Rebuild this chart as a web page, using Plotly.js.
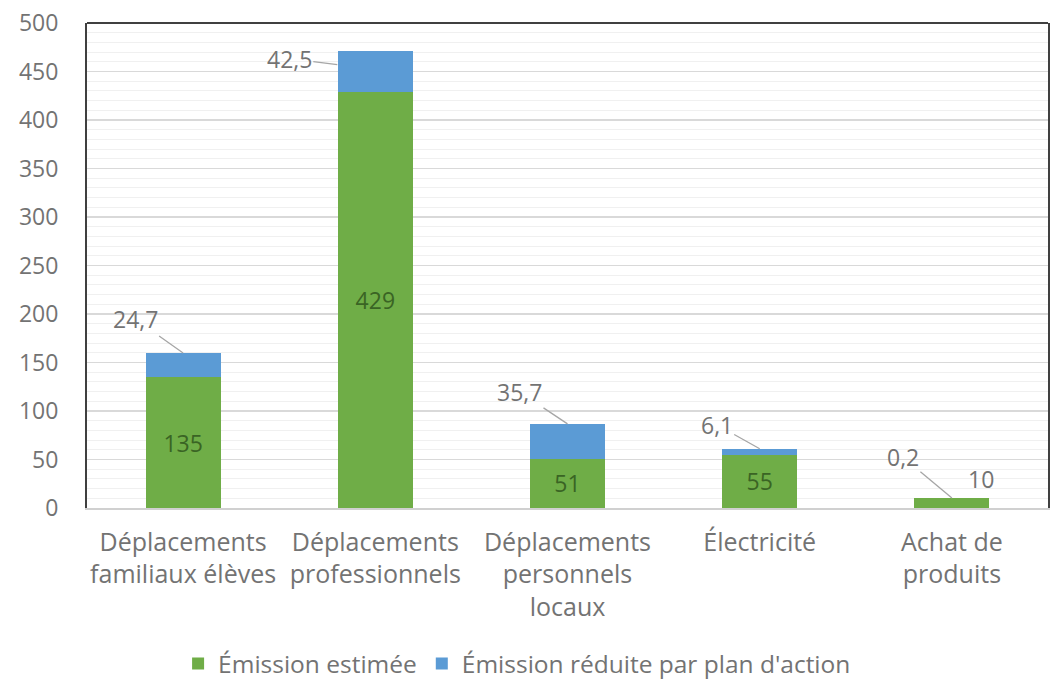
<!DOCTYPE html>
<html>
<head>
<meta charset="utf-8">
<script src="https://cdn.plot.ly/plotly-3.0.1.min.js"></script>
<style>html,body{margin:0;padding:0;background:#fff;}#chart{width:1051px;height:687px;}</style>
</head>
<body>
<div id="chart"></div>
<script>
const categories = [
  "Déplacements<br>familiaux élèves",
  "Déplacements<br>professionnels",
  "Déplacements<br>personnels<br>locaux",
  "Électricité",
  "Achat de<br>produits"
];
const seriesNames = ["Émission estimée", "Émission réduite par plan d'action"];
const estimee = [135, 429, 51, 55, 10];
const reduite = [24.7, 42.5, 35.7, 6.1, 0.2];
const yTicks = [0, 50, 100, 150, 200, 250, 300, 350, 400, 450, 500];

const fmt = v => String(v).replace('.', ',');
const FONT = "Open Sans, DejaVu Sans, sans-serif";
const GRAY = "#737373";
const FS = 23;

// label offsets for the blue values (pixel offsets of the text from the bar top)
const blueOffsets = [[-48, -34], [-48, -6], [-48, -32], [-43, -24], [-49, -41]];
const blueShift = [[0, 0], [-38, -14], [0, 0], [0, 0], [0, 0]];

const greenText = estimee.map((v, i) => i === 4 ? "" : fmt(v));

const traces = [
  {
    type: "bar", name: seriesNames[0], x: categories, y: estimee,
    marker: {color: "#6FAD47"},
    text: greenText, textposition: "inside", insidetextanchor: "middle",
    textfont: {family: FONT, size: FS, color: "#3A6424"},
    constraintext: "none", hoverinfo: "x+y"
  },
  {
    type: "bar", name: seriesNames[1], x: categories, y: reduite,
    marker: {color: "#5B9BD5"},
    hoverinfo: "x+y"
  }
];

const annotations = reduite.map((v, i) => ({
  x: categories[i], y: estimee[i] + v, xref: "x", yref: "y",
  text: fmt(v), showarrow: true, arrowhead: 0, arrowwidth: 1.3, arrowcolor: "#A6A6A6",
  ax: blueOffsets[i][0], ay: blueOffsets[i][1],
  xshift: blueShift[i][0], yshift: blueShift[i][1],
  font: {family: FONT, size: FS, color: GRAY}
}));
annotations.push({
  x: categories[4], y: estimee[4] + reduite[4], xref: "x", yref: "y",
  text: fmt(estimee[4]), showarrow: false, xshift: 29, yshift: 19,
  font: {family: FONT, size: FS, color: GRAY}
});

const layout = {
  width: 1051, height: 687,
  margin: {l: 87, r: 3, t: 23, b: 179},
  barmode: "stack", bargap: 0.61,
  paper_bgcolor: "#ffffff", plot_bgcolor: "#ffffff",
  font: {family: FONT, size: FS, color: GRAY},
  showlegend: true,
  legend: {
    orientation: "h", xref: "container", yref: "container",
    x: 0.492, xanchor: "center", y: 0.034, yanchor: "middle",
    font: {family: FONT, size: 24.5, color: GRAY},
    traceorder: "normal", itemwidth: 30
  },
  xaxis: {
    type: "category", showgrid: false, showline: true, linecolor: "#D0D0D0", linewidth: 1.5,
    ticks: "", tickfont: {family: FONT, size: 25, color: GRAY}, ticklabelstandoff: 11,
    fixedrange: true
  },
  yaxis: {
    range: [0, 500], tickvals: yTicks, ticktext: yTicks.map(String),
    showgrid: true, gridcolor: "#D9D9D9", gridwidth: 1.3,
    minor: {dtick: 10, showgrid: true, gridcolor: "#F0F0F0", gridwidth: 1},
    showline: true, mirror: true, linecolor: "#404040", linewidth: 2,
    zeroline: false, ticks: "", ticklabelstandoff: 22,
    tickfont: {family: FONT, size: FS, color: GRAY}, fixedrange: true
  },
  shapes: [
    {type: "line", xref: "paper", yref: "paper", x0: 0, x1: 1, y0: 1, y1: 1,
     line: {color: "#404040", width: 2}}
  ],
  annotations: annotations
};

Plotly.newPlot("chart", traces, layout, {displayModeBar: false, staticPlot: true});
</script>
</body>
</html>
